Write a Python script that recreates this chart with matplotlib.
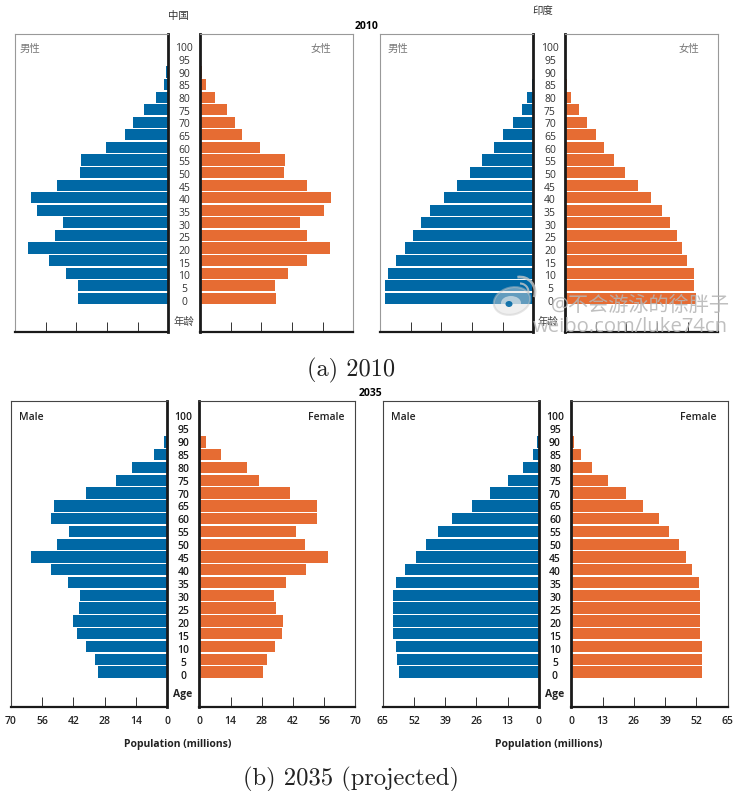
import numpy as np
import matplotlib
matplotlib.use('Agg')
import matplotlib.pyplot as plt
from matplotlib.patches import Ellipse, Arc
from matplotlib.transforms import Affine2D

plt.rcParams['font.family'] = ['Open Sans', 'Noto Sans CJK SC', 'DejaVu Sans']
plt.rcParams['axes.unicode_minus'] = False

W, H = 734, 791
BLUE = '#0068a5'
ORANGE = '#e66c33'

ages = list(range(0, 105, 5))

# values, age 0 first, millions
china_2010_m = [41, 41, 46.6, 54.5, 63.8, 51.8, 48.1, 59.7, 62.6, 50.6, 40.2, 40, 28.4, 20, 16.1, 10.9, 5.6, 2.1, 0.9, 0, 0]
china_2010_f = [34.9, 34.2, 40, 48.9, 59.4, 48.9, 45.8, 56.8, 59.7, 49, 38.4, 39, 27.2, 19.3, 16, 12.3, 6.7, 2.7, 0.8, 0, 0]
india_2010_m = [62.8, 62.6, 61.6, 58, 54.3, 50.9, 47.4, 43.6, 37.9, 32.2, 26.8, 21.9, 16.6, 12.8, 8.6, 4.9, 2.5, 0.8, 0, 0, 0]
india_2010_f = [55.4, 54.9, 54.5, 51.8, 49.6, 47.3, 44.4, 41.2, 36.4, 30.8, 25.6, 20.9, 16.5, 13.1, 9.3, 5.8, 2.7, 0.7, 0, 0, 0]
china_2035_m = [31.1, 32.2, 36.4, 40.2, 41.9, 39.3, 38.9, 44.3, 51.9, 60.8, 49.2, 44, 51.9, 50.4, 36.4, 22.8, 15.8, 6.1, 1.6, 0, 0]
china_2035_f = [28.4, 30.3, 34.1, 37.1, 37.5, 34.4, 33.3, 39, 48, 57.7, 47.4, 43.3, 52.8, 52.8, 40.5, 26.9, 21.4, 9.7, 3, 0, 0]
india_2035_m = [58.2, 58.9, 59.7, 60.7, 60.8, 60.8, 60.7, 59.7, 55.8, 51.1, 46.9, 41.8, 36, 27.9, 20.3, 12.9, 6.7, 2.6, 0.8, 0, 0]
india_2035_f = [54.2, 54.2, 54.2, 53.6, 53.6, 53.6, 53.6, 53.1, 50.3, 47.5, 44.7, 40.8, 36.4, 29.7, 22.6, 15.1, 8.6, 4, 1.2, 0, 0]

china_ticks = [0, 14, 28, 42, 56, 70]
india_ticks = [0, 13, 26, 39, 52, 65]

fig = plt.figure(figsize=(W / 100, H / 100), dpi=100)
# pixel coordinates with the origin at the top left, same as the reference
px = Affine2D().scale(1, -1).translate(0, H)


def label(x, y, s, **kw):
    kw.setdefault('ha', 'center')
    kw.setdefault('va', 'center')
    kw.setdefault('fontsize', 7.5)
    return fig.text(x, y, s, transform=px, **kw)


def add_side(x0, x1, top, bottom, y0_px, step_px, values, color, ticks, flip, frame, show_labels):
    ax = fig.add_axes([x0 / W, 1 - bottom / H, (x1 - x0) / W, (bottom - top) / H])
    per_year = step_px / 5
    ax.set_ylim((y0_px - bottom) / per_year, (y0_px - top) / per_year)
    ax.set_xlim(ticks[-1], 0) if flip else ax.set_xlim(0, ticks[-1])
    ax.barh(ages, values, height=4.45, color=color)
    ax.set_yticks([])
    ax.set_xticks(ticks)
    ax.tick_params(axis='x', direction='in', length=7, width=0.7, color='#333333', pad=6.5,
                   labelsize=7.5, labelbottom=show_labels, labelcolor='#222222')
    for t in ax.get_xticklabels():
        t.set_fontweight('semibold')
    inner = 'right' if flip else 'left'
    outer = 'left' if flip else 'right'
    ax.spines[inner].set_linewidth(2.0)
    ax.spines[inner].set_color('#1a1a1a')
    ax.spines['bottom'].set_linewidth(1.6)
    ax.spines['bottom'].set_color('#1a1a1a')
    ax.spines['top'].set_linewidth(0.8)
    ax.spines['top'].set_color(frame)
    ax.spines[outer].set_linewidth(0.8)
    ax.spines[outer].set_color(frame)
    return ax


def pyramid(lx0, lx1, rx0, rx1, top, bottom, y0_px, step_px, male, female, ticks, frame, show_labels):
    add_side(lx0, lx1, top, bottom, y0_px, step_px, male, BLUE, ticks, True, frame, show_labels)
    add_side(rx0, rx1, top, bottom, y0_px, step_px, female, ORANGE, ticks, False, frame, show_labels)


pyramid(14.8, 168.4, 200, 353.3, 33.7, 332, 298.3, 12.57, china_2010_m, china_2010_f, china_ticks, '#999999', False)
pyramid(379.8, 533.4, 565, 718.3, 33.7, 332, 298.3, 12.57, india_2010_m, india_2010_f, india_ticks, '#999999', False)
pyramid(10.6, 167.2, 199.3, 355.3, 401.3, 706.7, 672, 12.78, china_2035_m, china_2035_f, china_ticks, '#444444', True)
pyramid(382.8, 538.8, 571.3, 727.7, 401.3, 706.7, 672, 12.78, india_2035_m, india_2035_f, india_ticks, '#444444', True)

# age labels between the two halves
for i, a in enumerate(ages):
    label(184.3, 302.3 - i * 12.68, str(a), color='#333333')
    label(550, 302.3 - i * 12.68, str(a), color='#333333')
    label(183.5, 676.2 - i * 12.94, str(a), color='#1a1a1a', fontweight='semibold')
    label(555, 676.2 - i * 12.94, str(a), color='#1a1a1a', fontweight='semibold')

label(178, 16, '中国', color='#333333')
label(543, 11.5, '印度', color='#333333')
label(367, 26.5, '2010', fontweight='bold', fontsize=7.5)
label(370, 393.5, '2035', fontweight='bold', fontsize=7.5)
for x in (30, 398):
    label(x, 49, '男性', color='#777777')
for x in (321, 689):
    label(x, 49, '女性', color='#777777')
for x in (183.5, 548):
    label(x, 322.5, '年龄', color='#444444')

for x in (31, 403.7):
    label(x, 417, 'Male', fontweight='semibold', color='#222222')
for x in (326, 698):
    label(x, 417, 'Female', fontweight='semibold', color='#222222')
for x in (183, 555):
    label(x, 694, 'Age', fontweight='bold', color='#222222')
for x in (178, 549):
    label(x, 745, 'Population (millions)', fontweight='bold', fontsize=7.5, color='#222222')

label(351, 370, '(a) 2010', family='cmr10', fontsize=17.5, color='#222222')
label(351, 779.5, '(b) 2035 (projected)', family='cmr10', fontsize=17.7, color='#222222')

# weibo watermark
mark = '#c8c8c8'
logo = [
    Ellipse((512, 301), 37, 27, angle=-15, fc='#dddddd', ec=mark, lw=1.5, alpha=0.45),
    Ellipse((511, 303), 20, 14, fc='#f0f0f0', ec='none', alpha=0.6),
    Ellipse((509, 304), 7, 6, fc=BLUE, ec='none', alpha=0.9),
    Arc((520, 292), 30, 30, theta1=-100, theta2=20, ec=mark, lw=2, alpha=0.8),
    Arc((520, 292), 17, 17, theta1=-90, theta2=10, ec=mark, lw=1.5, alpha=0.8),
]
for p in logo:
    p.set_transform(px)
    fig.add_artist(p)
label(640, 305.5, '@不会游泳的徐胖子', fontsize=14.5, color='#b4b4b4', alpha=0.85)
label(630, 327, 'weibo.com/luke74cn', fontsize=14.6, color='#b4b4b4', alpha=0.85)

fig.savefig('out.png', dpi=100)
